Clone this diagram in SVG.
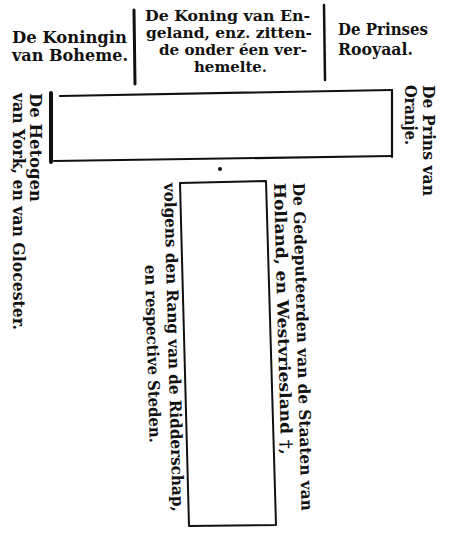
<svg xmlns="http://www.w3.org/2000/svg" width="450" height="535" viewBox="0 0 450 535">
  <style>
    .t { font-family: "DejaVu Serif", "Liberation Serif", serif; fill: #111; font-weight: bold; }
    .h18 { font-size: 17px; }
    .h14 { font-size: 14px; }
    .v { font-size: 16px; }
    .ln { stroke: #111; fill: none; stroke-linecap: round; }
  </style>
  <rect x="0" y="0" width="450" height="535" fill="#ffffff"/>

  <g id="header-left">
    <text class="t h18" x="12" y="43" textLength="115" lengthAdjust="spacingAndGlyphs">De Koningin</text>
    <text class="t h18" x="12" y="61" textLength="116" lengthAdjust="spacingAndGlyphs">van Boheme.</text>
  </g>
  <g id="header-middle">
    <text class="t h14" x="145" y="21" textLength="165" lengthAdjust="spacingAndGlyphs">De Koning van En-</text>
    <text class="t h14" x="146" y="38" textLength="166" lengthAdjust="spacingAndGlyphs">geland, enz. zitten-</text>
    <text class="t h14" x="159" y="55" textLength="148" lengthAdjust="spacingAndGlyphs">de onder éen ver-</text>
    <text class="t h14" x="194" y="72" textLength="73" lengthAdjust="spacingAndGlyphs">hemelte.</text>
  </g>
  <g id="header-right">
    <text class="t h18" x="338" y="35" textLength="90" lengthAdjust="spacingAndGlyphs">De Prinses</text>
    <text class="t h18" x="338" y="55" textLength="75" lengthAdjust="spacingAndGlyphs">Rooyaal.</text>
  </g>

  <g id="dividers">
    <line class="ln" x1="134" y1="10" x2="135" y2="84" stroke-width="3"/>
    <line class="ln" x1="324" y1="5" x2="325" y2="80" stroke-width="2.5"/>
  </g>

  <g id="long-table">
    <line class="ln" x1="60" y1="96" x2="392" y2="90" stroke-width="2.2"/>
    <line class="ln" x1="392" y1="90" x2="392" y2="157" stroke-width="2.2"/>
    <line class="ln" x1="54" y1="161" x2="392" y2="156" stroke-width="2.2"/>
    <line class="ln" x1="51" y1="93" x2="51" y2="162" stroke-width="4"/>
  </g>

  <g id="side-left">
    <text class="t v" transform="translate(30,93) rotate(90)" textLength="109" lengthAdjust="spacingAndGlyphs">De Hetogen</text>
    <text class="t v" transform="translate(13,93) rotate(90)" textLength="237" lengthAdjust="spacingAndGlyphs">van York, en van Glocester.</text>
  </g>
  <g id="side-right">
    <text class="t v" transform="translate(423,85) rotate(90)" textLength="111" lengthAdjust="spacingAndGlyphs">De Prins van</text>
    <text class="t v" transform="translate(405,85) rotate(90)" textLength="60" lengthAdjust="spacingAndGlyphs">Oranje.</text>
  </g>

  <circle id="mark" cx="220" cy="169" r="2" fill="#111"/>

  <g id="tall-table">
    <polygon class="ln" points="180,183 266,181 276,525 189,526" stroke-width="2" stroke-linejoin="round"/>
  </g>

  <g id="tall-right-label">
    <text class="t v" transform="translate(293,183) rotate(88.5)" textLength="328" lengthAdjust="spacingAndGlyphs">De Gedeputeerden van de Staaten van</text>
    <text class="t v" transform="translate(274,183) rotate(88.5)" textLength="272" lengthAdjust="spacingAndGlyphs">Holland, en Westvriesland †,</text>
  </g>
  <g id="tall-left-label">
    <text class="t v" transform="translate(164,183) rotate(88.5)" textLength="329" lengthAdjust="spacingAndGlyphs">volgens den Rang van de Ridderschap,</text>
    <text class="t v" transform="translate(145,265) rotate(88.5)" textLength="178" lengthAdjust="spacingAndGlyphs">en respective Steden.</text>
  </g>
</svg>
